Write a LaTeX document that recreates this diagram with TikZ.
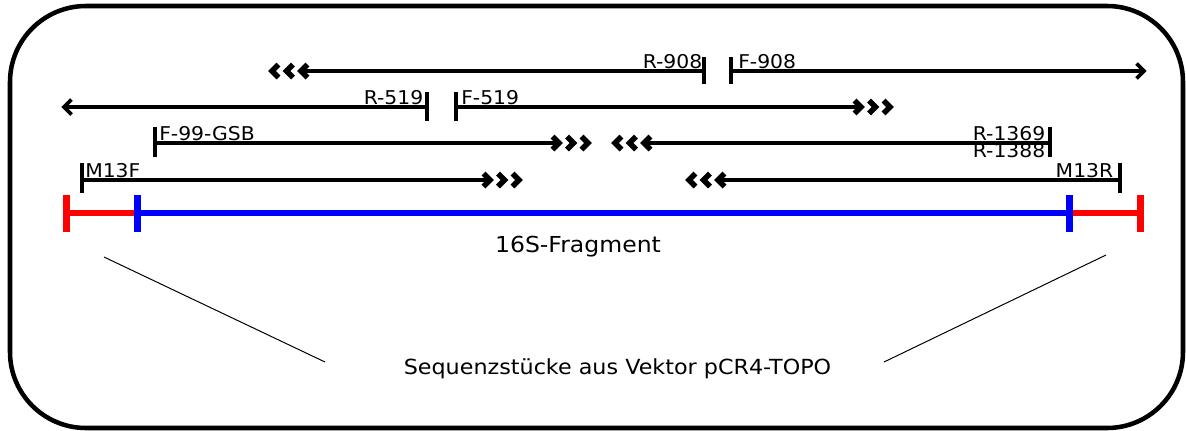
\documentclass[tikz,border=0pt]{standalone}
\usepackage{fontspec}
\newfontfamily\labfont[FakeStretch=1.07]{DejaVu Sans}
\definecolor{vred}{RGB}{255,0,0}
\definecolor{vblue}{RGB}{0,0,255}
\tikzset{
  primer/.style={line width=2.3pt},
  ptick/.style={line width=2.3pt},
  chevline/.style={line width=4pt,line cap=butt,line join=miter,miter limit=10},
  tri/.pic={
    \draw[chevline] (-6.5,-6.5) -- (0,0) -- (-6.5,6.5);
    \draw[chevline] (8,-6.5) -- (14.5,0) -- (8,6.5);
    \draw[chevline] (22.5,-6.5) -- (29,0) -- (22.5,6.5);
  },
  one/.pic={
    \draw[line width=2.8pt,line cap=butt,line join=miter,miter limit=10] (-7.5,-7.5) -- (0,0) -- (-7.5,7.5);
  },
  lab/.style={inner sep=0pt,font=\labfont\fontsize{14.25pt}{16pt}\selectfont},
  bar/.style={line width=4.5pt},
  bartick/.style={line width=5.25pt},
  thin/.style={line width=0.75pt},
}
\begin{document}
\begin{tikzpicture}[x=0.75pt,y=-0.75pt]
\useasboundingbox (0,0) rectangle (1186,430);
\draw[line width=3.4pt,rounded corners=57pt] (10,6) rectangle (1183,428);
% main bar
\coordinate (a) at (66,213);
\coordinate (b) at (137,213);
\coordinate (c) at (1069,213);
\coordinate (d) at (1140,213);
\draw[bar,vred] (a) -- (b);
\draw[bar,vred] (c) -- (d);
\draw[bar,vblue] (b) -- (c);
\draw[bartick,vred] (66,195) -- (66,232);
\draw[bartick,vred] (1140,195) -- (1140,232);
\draw[bartick,vblue] (137,195) -- (137,232);
\draw[bartick,vblue] (1069,195) -- (1069,232);
% row 1
\coordinate (r908s) at (704,71); \coordinate (r908e) at (301,71);
\draw[primer] (r908s) -- (r908e);
\pic[rotate=180] at (r908e) {tri};
\draw[ptick] (704,57) -- (704,84);
\node[lab,anchor=base east] (lr908) at (702.5,68) {R-908};
\coordinate (f908s) at (731,71); \coordinate (f908e) at (1144,71);
\draw[primer] (f908s) -- (f908e);
\pic at (f908e) {one};
\draw[ptick] (731,57) -- (731,84);
\node[lab,anchor=base west] (lf908) at (738,68) {F-908};
% row 2
\coordinate (r519s) at (427,107); \coordinate (r519e) at (64,107);
\draw[primer] (r519s) -- (r519e);
\pic[rotate=180] at (r519e) {one};
\draw[ptick] (427,92) -- (427,121);
\node[lab,anchor=base east] (lr519) at (423.5,104) {R-519};
\coordinate (f519s) at (456,107); \coordinate (f519e) at (861,107);
\draw[primer] (f519s) -- (f519e);
\pic at (f519e) {tri};
\draw[ptick] (456,92) -- (456,121);
\node[lab,anchor=base west] (lf519) at (461,104) {F-519};
% row 3
\coordinate (f99s) at (155,143); \coordinate (f99e) at (559,143);
\draw[primer] (f99s) -- (f99e);
\pic at (f99e) {tri};
\draw[ptick] (155,127) -- (155,157);
\node[lab,anchor=base west] (lf99) at (159,140) {F-99-GSB};
\coordinate (r1369s) at (1050,143); \coordinate (r1369e) at (644,143);
\draw[primer] (r1369s) -- (r1369e);
\pic[rotate=180] at (r1369e) {tri};
\draw[ptick] (1050,127) -- (1050,157);
\node[lab,anchor=base east] (lr1369) at (1045.5,140) {R-1369};
\node[lab,anchor=base east] (lr1388) at (1045.5,157) {R-1388};
% row 4
\coordinate (m13fs) at (82,180); \coordinate (m13fe) at (490,180);
\draw[primer] (m13fs) -- (m13fe);
\pic at (m13fe) {tri};
\draw[ptick] (82,163) -- (82,193);
\node[lab,anchor=base west] (lm13f) at (85,177) {M13F};
\coordinate (m13rs) at (1120,180); \coordinate (m13re) at (718,180);
\draw[primer] (m13rs) -- (m13re);
\pic[rotate=180] at (m13re) {tri};
\draw[ptick] (1120,163) -- (1120,193);
\node[lab,anchor=base east] (lm13r) at (1113.5,177) {M13R};
% texts
\node[inner sep=0pt,anchor=base,font=\labfont\fontsize{16.5pt}{19pt}\selectfont] (frag) at (578,252) {16S-Fragment};
\node[inner sep=0pt,anchor=base,font=\labfont\fontsize{15.6pt}{19pt}\selectfont] (vec) at (617.5,374) {Sequenzstücke aus Vektor pCR4-TOPO};
\coordinate (l1) at (104,257); \coordinate (l2) at (325,362);
\coordinate (r1) at (1106,255); \coordinate (r2) at (884,362);
\draw[thin] (l1) -- (l2);
\draw[thin] (r1) -- (r2);
\end{tikzpicture}
\end{document}
